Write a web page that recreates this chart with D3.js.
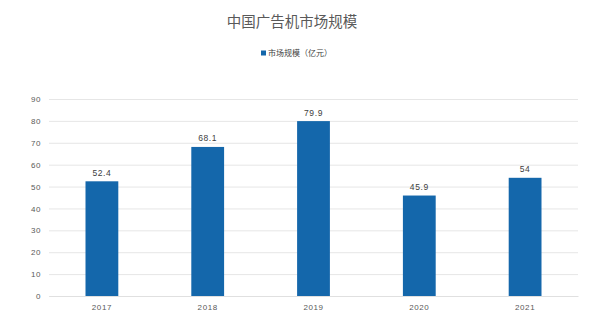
<!DOCTYPE html>
<html><head><meta charset="utf-8">
<script src="https://cdn.jsdelivr.net/npm/d3@7"></script>
<style>body{margin:0;background:#fff;}svg{display:block;}</style>
</head><body>
<svg id="c" width="606" height="334"></svg>
<script>
const title = "中国广告机市场规模";
const seriesName = "市场规模（亿元）";
const categories = ["2017","2018","2019","2020","2021"];
const values = [52.4, 68.1, 79.9, 45.9, 54];
const yTicks = [0,10,20,30,40,50,60,70,80,90];

const svg = d3.select("#c");
const font = "'Noto Sans CJK SC', 'Liberation Sans', sans-serif";
const numFont = "'Liberation Sans', Arial, sans-serif";
const mLeft = 49, mRight = 578, mTop = 99, mBottom = 296;
const color = "#1467ab";

const x = d3.scaleBand().domain(categories).range([mLeft, mRight]).paddingInner(0.69).paddingOuter(0.345);
const y = d3.scaleLinear().domain([0, 90]).range([mBottom, mTop]);

svg.append("text").attr("x", 292).attr("y", 27).attr("text-anchor","middle")
  .attr("font-family", font).attr("font-size", 14.5).attr("fill","#595959").text(title);

svg.append("rect").attr("x", 261).attr("y", 50.5).attr("width",5).attr("height",5).attr("fill",color);
svg.append("text").attr("x", 268).attr("y", 56).attr("font-family", font).attr("font-size", 8)
  .attr("fill","#404040").text(seriesName);

const yAxis = d3.axisLeft(y).tickValues(yTicks).tickSize(-(mRight-mLeft)).tickPadding(8);
const gy = svg.append("g").attr("transform", `translate(${mLeft},0)`).call(yAxis);
gy.select(".domain").remove();
gy.selectAll(".tick line").attr("stroke","#e6e6e6").attr("stroke-width",1);
gy.selectAll(".tick text").attr("font-family",numFont).attr("font-size",8).attr("letter-spacing",0.5).attr("fill","#595959");

const xAxis = d3.axisBottom(x).tickSize(0).tickPadding(8);
const gx = svg.append("g").attr("transform", `translate(0,${mBottom})`).call(xAxis);
gx.select(".domain").attr("stroke","#e0e0e0");
gx.selectAll(".tick text").attr("font-family",numFont).attr("font-size",8).attr("letter-spacing",0.6).attr("fill","#595959");

svg.append("g").selectAll("rect").data(values).join("rect")
  .attr("x", (d,i)=>x(categories[i])).attr("width", x.bandwidth())
  .attr("y", d=>y(d)).attr("height", d=>y(0)-y(d)).attr("fill", color);

svg.append("g").selectAll("text").data(values).join("text")
  .attr("x", (d,i)=>x(categories[i]) + x.bandwidth()/2).attr("y", d=>y(d)-5.5)
  .attr("text-anchor","middle").attr("font-family",numFont)
  .attr("font-size",8.5).attr("letter-spacing",0.6).attr("fill","#404040").text(d=>d);
</script>
</body></html>
